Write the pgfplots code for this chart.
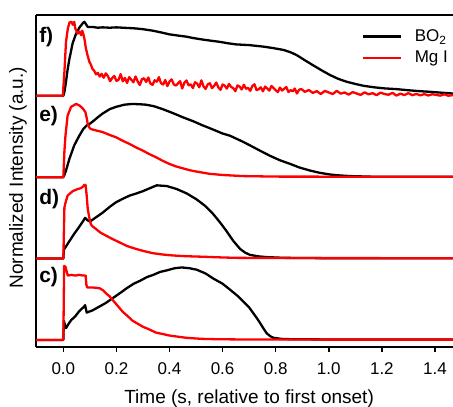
\documentclass[border=0pt]{standalone}
\usepackage{pgfplots}
\pgfplotsset{compat=1.18}
\usepackage{pgfplotstable}
\usepackage{fontspec}
\setmainfont{Liberation Sans}

% Normalized emission traces, time in s relative to first onset.
% Each panel is shifted upward by 1.1 when plotted.

% ---- panel c ----
\pgfplotstableread{
t y
-0.103 0
0.0 0
0.003 1.0
0.008 0.99
0.012 0.93
0.017 0.87
0.030 0.88
0.045 0.87
0.060 0.88
0.075 0.87
0.084 0.87
0.087 0.74
0.090 0.71
0.110 0.71
0.136 0.70
0.150 0.67
0.161 0.63
0.174 0.59
0.186 0.54
0.205 0.46
0.224 0.38
0.243 0.32
0.261 0.26
0.280 0.22
0.299 0.18
0.325 0.14
0.349 0.10
0.375 0.08
0.40 0.06
0.43 0.045
0.462 0.03
0.50 0.02
0.525 0.015
0.58 0.01
0.70 0.006
1.0 0.005
1.47 0.005
}\mgc

\pgfplotstableread{
t y
-0.103 0
0.0 0
0.002 0.26
0.006 0.20
0.010 0.16
0.020 0.22
0.030 0.27
0.045 0.32
0.060 0.39
0.075 0.44
0.082 0.47
0.088 0.37
0.095 0.38
0.110 0.40
0.125 0.43
0.140 0.46
0.160 0.50
0.180 0.55
0.200 0.60
0.220 0.65
0.239 0.70
0.265 0.76
0.289 0.80
0.315 0.85
0.339 0.88
0.365 0.92
0.389 0.94
0.420 0.97
0.446 0.98
0.475 0.97
0.502 0.95
0.535 0.90
0.565 0.83
0.600 0.76
0.628 0.68
0.655 0.60
0.678 0.52
0.700 0.44
0.716 0.36
0.730 0.29
0.741 0.23
0.755 0.15
0.766 0.09
0.780 0.05
0.791 0.03
0.820 0.015
0.860 0.01
1.0 0.007
1.47 0.005
}\boc

% ---- panel d ----
\pgfplotstableread{
t y
-0.103 0
0.0 0
0.004 0.69
0.010 0.78
0.016 0.85
0.025 0.88
0.035 0.91
0.054 0.94
0.065 0.95
0.073 0.97
0.080 1.0
0.084 0.99
0.088 0.85
0.092 0.67
0.098 0.55
0.104 0.46
0.112 0.43
0.123 0.40
0.140 0.35
0.161 0.31
0.185 0.265
0.211 0.22
0.240 0.17
0.274 0.13
0.305 0.10
0.337 0.073
0.370 0.057
0.399 0.046
0.430 0.038
0.462 0.032
0.525 0.025
0.600 0.015
0.650 0.01
0.800 0.007
1.47 0.005
}\mgd

\pgfplotstableread{
t y
-0.103 0
0.0 0
0.002 0.12
0.020 0.22
0.040 0.33
0.060 0.43
0.075 0.51
0.082 0.55
0.090 0.52
0.100 0.50
0.120 0.55
0.148 0.62
0.175 0.70
0.198 0.76
0.225 0.81
0.249 0.85
0.275 0.88
0.299 0.91
0.325 0.95
0.352 0.99
0.390 0.98
0.427 0.94
0.465 0.88
0.502 0.80
0.535 0.71
0.565 0.60
0.590 0.49
0.615 0.37
0.640 0.24
0.666 0.13
0.685 0.08
0.703 0.05
0.735 0.03
0.766 0.02
0.830 0.01
1.0 0.005
1.47 0.005
}\bod

% ---- panel e ----
\pgfplotstableread{
t y
-0.103 0
0.0 0
0.004 0.35
0.008 0.56
0.016 0.83
0.029 0.95
0.048 0.99
0.060 0.97
0.067 0.95
0.075 0.92
0.083 0.88
0.088 0.80
0.092 0.72
0.098 0.67
0.104 0.65
0.125 0.63
0.148 0.61
0.175 0.57
0.198 0.54
0.225 0.49
0.249 0.45
0.275 0.40
0.299 0.36
0.325 0.31
0.349 0.27
0.375 0.22
0.399 0.18
0.425 0.145
0.450 0.12
0.475 0.095
0.500 0.077
0.550 0.046
0.600 0.03
0.675 0.015
0.800 0.008
1.47 0.005
}\mge

\pgfplotstableread{
t y
-0.103 0
0.0 0
0.004 0.03
0.010 0.09
0.023 0.25
0.041 0.43
0.060 0.56
0.075 0.65
0.083 0.68
0.088 0.70
0.095 0.71
0.110 0.75
0.130 0.81
0.148 0.86
0.175 0.92
0.198 0.95
0.230 0.98
0.261 0.99
0.290 0.985
0.311 0.98
0.340 0.96
0.374 0.92
0.410 0.87
0.450 0.81
0.490 0.755
0.525 0.70
0.560 0.65
0.600 0.59
0.628 0.56
0.676 0.48
0.703 0.43
0.740 0.36
0.778 0.29
0.815 0.23
0.854 0.18
0.890 0.13
0.929 0.09
0.965 0.06
1.005 0.036
1.040 0.024
1.080 0.015
1.160 0.007
1.47 0.005
}\boe

% ---- panel f ----
\pgfplotstableread{
t y
-0.103 0
-0.002 0
0.004 0.32
0.010 0.73
0.017 0.91
0.023 0.99
0.030 1.00
0.036 0.96
0.041 1.00
0.045 0.91
0.050 0.87
0.054 0.84
0.060 0.87
0.067 0.82
0.071 0.88
0.075 0.84
0.080 0.76
0.085 0.64
0.091 0.55
0.098 0.46
0.104 0.42
0.110 0.36
0.116 0.34
0.123 0.29
0.130 0.31
0.137 0.26
0.144 0.297
0.152 0.244
0.160 0.303
0.168 0.266
0.176 0.197
0.184 0.240
0.192 0.267
0.200 0.201
0.208 0.215
0.216 0.293
0.224 0.195
0.232 0.241
0.240 0.174
0.248 0.252
0.256 0.218
0.264 0.183
0.272 0.261
0.280 0.195
0.288 0.145
0.296 0.223
0.304 0.237
0.312 0.187
0.320 0.248
0.328 0.166
0.336 0.148
0.344 0.210
0.352 0.190
0.360 0.252
0.368 0.170
0.376 0.152
0.384 0.213
0.392 0.131
0.400 0.192
0.408 0.222
0.416 0.156
0.424 0.138
0.432 0.168
0.440 0.197
0.448 0.099
0.456 0.177
0.464 0.207
0.472 0.141
0.480 0.155
0.488 0.105
0.496 0.183
0.504 0.165
0.512 0.115
0.520 0.209
0.528 0.127
0.536 0.093
0.544 0.155
0.552 0.169
0.560 0.103
0.568 0.133
0.576 0.179
0.584 0.113
0.592 0.080
0.600 0.153
0.608 0.138
0.616 0.097
0.624 0.160
0.632 0.119
0.640 0.104
0.648 0.063
0.656 0.139
0.664 0.125
0.672 0.085
0.680 0.149
0.688 0.095
0.696 0.107
0.704 0.067
0.712 0.131
0.720 0.156
0.728 0.077
0.736 0.089
0.744 0.114
0.752 0.061
0.760 0.125
0.768 0.098
0.776 0.070
0.784 0.133
0.792 0.105
0.800 0.077
0.808 0.049
0.816 0.112
0.824 0.071
0.832 0.095
0.840 0.119
0.848 0.052
0.856 0.076
0.864 0.061
0.872 0.098
0.880 0.031
0.888 0.081
0.896 0.092
0.910 0.054
0.925 0.078
0.940 0.039
0.955 0.063
0.970 0.024
0.985 0.066
1.000 0.045
1.015 0.024
1.030 0.067
1.045 0.029
1.060 0.045
1.075 0.016
1.090 0.050
1.105 0.031
1.120 0.012
1.135 0.047
1.150 0.019
1.165 0.036
1.180 0.008
1.195 0.043
1.210 0.024
1.225 0.014
1.240 0.040
1.255 0.003
1.270 0.029
1.285 0.010
1.300 0.036
1.315 0.008
1.330 0.025
1.345 0.006
1.360 0.023
1.375 0.004
1.390 0.021
1.405 0.012
1.420 0.002
1.435 0.020
1.450 0.001
1.470 0.010
}\mgf

\pgfplotstableread{
t y
-0.103 0
0.0 0
0.004 0.05
0.010 0.19
0.016 0.35
0.023 0.50
0.035 0.71
0.048 0.84
0.060 0.92
0.073 0.98
0.079 1.0
0.085 0.97
0.092 0.93
0.110 0.93
0.130 0.92
0.148 0.925
0.175 0.92
0.200 0.925
0.224 0.92
0.250 0.915
0.274 0.91
0.300 0.90
0.337 0.88
0.370 0.855
0.400 0.83
0.430 0.815
0.462 0.80
0.490 0.78
0.525 0.76
0.555 0.745
0.588 0.73
0.620 0.71
0.650 0.695
0.700 0.685
0.753 0.665
0.790 0.645
0.829 0.62
0.855 0.59
0.879 0.55
0.910 0.48
0.942 0.41
0.975 0.34
1.005 0.28
1.035 0.23
1.067 0.19
1.100 0.16
1.131 0.135
1.170 0.115
1.210 0.10
1.256 0.09
1.300 0.075
1.340 0.063
1.381 0.054
1.420 0.043
1.470 0.03
}\bof

\definecolor{mgred}{RGB}{255,0,0}

\begin{document}
\begin{tikzpicture}
\begin{axis}[
  name=ax,
  scale only axis,
  width=417pt, height=332pt,
  xmin=-0.103, xmax=1.468,
  ymin=-0.095, ymax=4.392,
  axis x line*=box,
  axis y line*=left,
  axis line style={line width=1.5pt, black},
  xtick={0,0.2,0.4,0.6,0.8,1.0,1.2,1.4},
  ytick=\empty,
  xtick pos=left,
  tick align=outside,
  major tick length=5pt,
  every tick/.style={line width=1.5pt, black},
  xticklabel style={font=\fontsize{17}{20}\selectfont, yshift=-7pt,
    /pgf/number format/.cd, fixed, fixed zerofill, precision=1, assume math mode=true},
  xlabel={Time (s, relative to first onset)},
  xlabel style={font=\fontsize{19}{22}\selectfont, at={(axis description cs:0.511,0)}, anchor=base, yshift=-56pt},
  ylabel={Normalized Intensity (a.u.)},
  ylabel style={font=\fontsize{19}{22}\selectfont, at={(axis description cs:-0.0432,0.51)}, anchor=center},
  legend style={draw=none, fill=none, at={(axis cs:1.125,4.22)}, anchor=north west,
    font=\fontsize{17}{20}\selectfont, row sep=4pt, inner sep=0pt,
    /tikz/every odd column/.style={column sep=10pt}},
  legend cell align=left,
  legend image code/.code={\draw[#1] (0pt,0pt) -- (38pt,0pt);},
  every axis plot/.append style={line width=2.3pt, line join=round},
]
\addlegendimage{black, line width=2.6pt}
\addlegendentry{BO\textsubscript{2}}
\addlegendimage{mgred, line width=2.6pt}
\addlegendentry{Mg I}

% panel c (offset 0)
\addplot[black] table[x=t, y=y] {\boc};
\addplot[mgred] table[x=t, y=y] {\mgc};
% panel d (offset 1.1)
\addplot[black] table[x=t, y expr=\thisrow{y}+1.1] {\bod};
\addplot[mgred] table[x=t, y expr=\thisrow{y}+1.1] {\mgd};
% panel e (offset 2.2)
\addplot[black] table[x=t, y expr=\thisrow{y}+2.2] {\boe};
\addplot[mgred] table[x=t, y expr=\thisrow{y}+2.2] {\mge};
% panel f (offset 3.3)
\addplot[black] table[x=t, y expr=\thisrow{y}+3.3] {\bof};
\addplot[mgred] table[x=t, y expr=\thisrow{y}+3.3] {\mgf};

\begin{scope}[every node/.style={anchor=west, inner sep=0pt, font=\bfseries\fontsize{21}{24}\selectfont}]
\node at (axis cs:-0.0915,4.09) {f)};
\node at (axis cs:-0.0915,3.02) {e)};
\node at (axis cs:-0.0915,1.91) {d)};
\node at (axis cs:-0.0915,0.845) {c)};
\end{scope}
\end{axis}
\pgfresetboundingbox
\path[use as bounding box] ([xshift=-36pt,yshift=-59pt]ax.south west) rectangle ([yshift=15pt]ax.north east);
\end{tikzpicture}
\end{document}
